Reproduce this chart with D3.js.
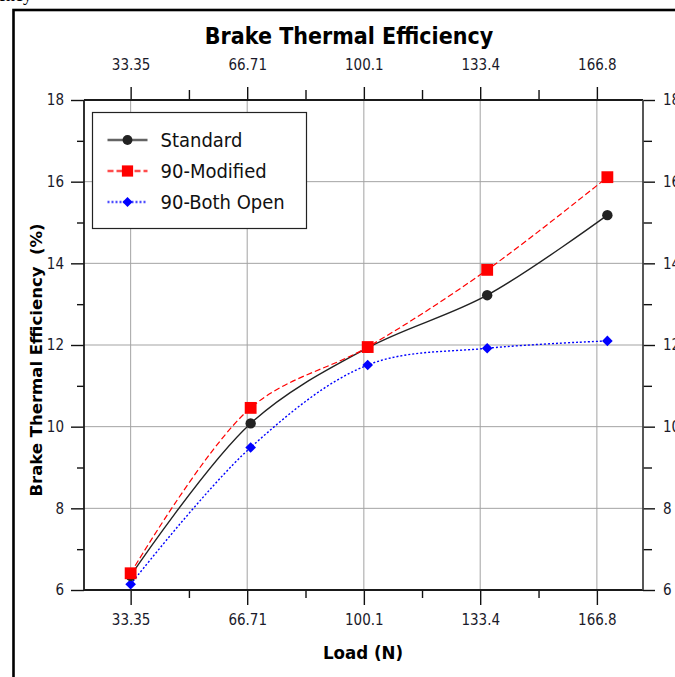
<!DOCTYPE html>
<html>
<head>
<meta charset="utf-8">
<script src="https://cdn.jsdelivr.net/npm/d3@7"></script>
<style>
  html, body { margin: 0; padding: 0; background: #fff; overflow: hidden; }
  svg { display: block; }
  .tick text { font-family: "DejaVu Sans Condensed", "DejaVu Sans", sans-serif; }
</style>
</head>
<body>
<div id="chart"></div>
<script>
// load steps (N) where the readings were taken
const loads = [33.35, 67.7, 101.2, 135.4, 169.8];
// brake thermal efficiency (%) per configuration
const standard = [6.35, 10.08, 11.93, 13.22, 15.18];
const modified90 = [6.41, 10.46, 11.95, 13.84, 16.11];
const bothOpen90 = [6.14, 9.49, 11.51, 11.92, 12.10];
// axis labels
const xTicks = [33.35, 66.71, 100.1, 133.4, 166.8];
const xMinor = [50.03, 83.4, 116.75, 150.1];
const yTicks = [6, 8, 10, 12, 14, 16, 18];
const yMinor = [7, 9, 11, 13, 15, 17];

const seriesNames = ["Standard", "90-Modified", "90-Both Open"];

const width = 675, height = 677;
const plot = {left: 84, right: 643, top: 100, bottom: 590};

const svg = d3.select("#chart")
    .append("svg")
    .attr("width", width)
    .attr("height", height);

// cropped caption text above the frame
svg.append("text")
    .attr("x", -2)
    .attr("y", 1)
    .style("font-family", "Liberation Serif, serif")
    .style("font-size", "18px")
    .text("ency");

// outer frame
svg.append("rect")
    .attr("x", 13.5)
    .attr("y", 10)
    .attr("width", 700)
    .attr("height", 700)
    .style("fill", "none")
    .style("stroke", "#000")
    .style("stroke-width", 2.6);

const x = d3.scaleLinear().domain([20, 180]).range([plot.left, plot.right]);
const y = d3.scaleLinear().domain([6, 18]).range([plot.bottom, plot.top]);

// grid
const grid = svg.append("g").attr("class", "grid");
grid.selectAll("line.gx")
    .data(xTicks).enter()
    .append("line")
    .attr("x1", d => x(d)).attr("x2", d => x(d))
    .attr("y1", plot.top).attr("y2", plot.bottom)
    .style("stroke", "#a3a3a3").style("stroke-width", 1);
grid.selectAll("line.gy")
    .data(yTicks.slice(1, -1)).enter()
    .append("line")
    .attr("x1", plot.left).attr("x2", plot.right)
    .attr("y1", d => y(d)).attr("y2", d => y(d))
    .style("stroke", "#a3a3a3").style("stroke-width", 1);

function styleAxis(g, size) {
    g.select(".domain").remove();
    g.selectAll(".tick line").style("stroke", "#111").style("stroke-width", 1.4);
    g.selectAll(".tick text").style("font-size", size).style("fill", "#1a1a2a");
}

// major and minor ticks on all four sides
const bottomAxis = svg.append("g")
    .attr("transform", `translate(0,${plot.bottom})`)
    .call(d3.axisBottom(x).tickValues(xTicks).tickFormat(d => d).tickSize(15).tickPadding(9));
styleAxis(bottomAxis, "15px");
svg.append("g")
    .attr("transform", `translate(0,${plot.bottom})`)
    .call(d3.axisBottom(x).tickValues(xMinor).tickFormat("").tickSize(8))
    .call(g => styleAxis(g, "0px"));

const topAxis = svg.append("g")
    .attr("transform", `translate(0,${plot.top})`)
    .call(d3.axisTop(x).tickValues(xTicks).tickFormat(d => d).tickSize(13).tickPadding(17));
styleAxis(topAxis, "15px");
svg.append("g")
    .attr("transform", `translate(0,${plot.top})`)
    .call(d3.axisTop(x).tickValues(xMinor).tickFormat("").tickSize(10))
    .call(g => styleAxis(g, "0px"));

const leftAxis = svg.append("g")
    .attr("transform", `translate(${plot.left},0)`)
    .call(d3.axisLeft(y).tickValues(yTicks).tickSize(13).tickPadding(7));
styleAxis(leftAxis, "15px");
svg.append("g")
    .attr("transform", `translate(${plot.left},0)`)
    .call(d3.axisLeft(y).tickValues(yMinor).tickFormat("").tickSize(7))
    .call(g => styleAxis(g, "0px"));

const rightAxis = svg.append("g")
    .attr("transform", `translate(${plot.right},0)`)
    .call(d3.axisRight(y).tickValues(yTicks).tickSize(12).tickPadding(8));
styleAxis(rightAxis, "15px");
svg.append("g")
    .attr("transform", `translate(${plot.right},0)`)
    .call(d3.axisRight(y).tickValues(yMinor).tickFormat("").tickSize(9))
    .call(g => styleAxis(g, "0px"));

// axis lines
const frame = svg.append("g").style("stroke", "#1a1a1a").style("stroke-width", 1.8);
frame.append("line").attr("x1", plot.left).attr("x2", plot.right).attr("y1", plot.top).attr("y2", plot.top);
frame.append("line").attr("x1", plot.left).attr("x2", plot.right).attr("y1", plot.bottom).attr("y2", plot.bottom);
frame.append("line").attr("x1", plot.left).attr("x2", plot.left).attr("y1", plot.top).attr("y2", plot.bottom);
frame.append("line").attr("x1", plot.right).attr("x2", plot.right).attr("y1", plot.top).attr("y2", plot.bottom)
    .style("stroke", "#444");

// titles
svg.append("text")
    .attr("x", 349).attr("y", 44)
    .attr("text-anchor", "middle")
    .style("font-family", "DejaVu Sans Condensed, sans-serif")
    .style("font-weight", "bold")
    .style("font-size", "23px")
    .text("Brake Thermal Efficiency");

svg.append("text")
    .attr("x", 363).attr("y", 659)
    .attr("text-anchor", "middle")
    .style("font-family", "DejaVu Sans Condensed, sans-serif")
    .style("font-weight", "bold")
    .style("font-size", "18.5px")
    .text("Load (N)");

svg.append("text")
    .attr("transform", "translate(42,360) rotate(-90)")
    .attr("text-anchor", "middle")
    .style("font-family", "DejaVu Sans, sans-serif")
    .style("font-weight", "bold")
    .style("font-size", "16.5px")
    .style("white-space", "pre")
    .text("Brake Thermal Efficiency  (%)");

// series
const diamond = d3.symbolDiamond2 || d3.symbolDiamond;
const series = [
    {name: seriesNames[0], values: standard, color: "#222", dash: null, width: 1.4, shape: d3.symbolCircle, size: 85},
    {name: seriesNames[1], values: modified90, color: "#ff0000", dash: "6,3", width: 1.2, shape: d3.symbolSquare, size: 140},
    {name: seriesNames[2], values: bothOpen90, color: "#0000ff", dash: "2,2", width: 1.4, shape: diamond, size: 72}
];

const line = d3.line()
    .x((d, i) => x(loads[i]))
    .y(d => y(d))
    .curve(d3.curveCatmullRom.alpha(0.5));

const lines = svg.append("g").attr("class", "lines");
series.forEach(s => {
    lines.append("path")
        .datum(s.values)
        .attr("d", line)
        .style("fill", "none")
        .style("stroke", s.color)
        .style("stroke-width", s.width)
        .style("stroke-dasharray", s.dash);
});

// draw markers so that the standard circles sit under the squares
const markerOrder = [series[2], series[0], series[1]];
markerOrder.forEach(s => {
    lines.selectAll(null)
        .data(s.values).enter()
        .append("path")
        .attr("d", d3.symbol().type(s.shape).size(s.size))
        .attr("transform", (d, i) => `translate(${x(loads[i])},${y(d)})`)
        .style("fill", s.color);
});

// legend
const legend = svg.append("g").attr("transform", "translate(92.5,112.5)");
legend.append("rect")
    .attr("width", 214).attr("height", 116)
    .style("fill", "#fff")
    .style("stroke", "#222")
    .style("stroke-width", 1.2);

const items = legend.selectAll("g.item")
    .data(series).enter()
    .append("g")
    .attr("transform", (d, i) => `translate(0,${27.5 + i * 31})`);
items.append("line")
    .attr("x1", 15).attr("x2", 55)
    .style("stroke", d => d.color)
    .style("stroke-opacity", 0.7)
    .style("stroke-width", 2.4)
    .style("stroke-dasharray", d => d.dash);
items.append("path")
    .attr("d", d => d3.symbol().type(d.shape).size(d.size * 0.9)())
    .attr("transform", "translate(35,0)")
    .style("fill", d => d.color);
items.append("text")
    .attr("x", 68).attr("y", 7)
    .style("font-family", "DejaVu Sans Condensed, sans-serif")
    .style("font-size", "20px")
    .style("fill", "#111")
    .text(d => d.name);
</script>
</body>
</html>
